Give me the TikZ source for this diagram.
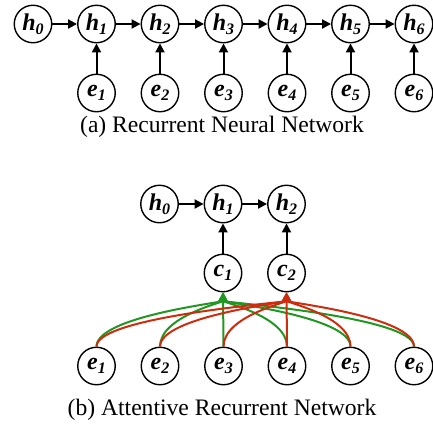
\documentclass[tikz,border=0pt]{standalone}
\usepackage{fontspec}
\setmainfont{Liberation Serif}
\usetikzlibrary{arrows.meta,calc}
\definecolor{attgreen}{RGB}{34,150,34}
\definecolor{attred}{RGB}{205,45,15}
\newcommand{\nl}[2]{{\fontsize{24}{24}\selectfont\bfseries\itshape #1\raisebox{-3.5pt}{\fontsize{16}{16}\selectfont #2}}}
\begin{document}
\begin{tikzpicture}[x=1pt,y=-1pt,
  unit/.style={circle,draw,line width=1.4pt,minimum size=37.5pt,inner sep=0pt},
  blk/.style={line width=2pt,-{Triangle[length=9pt,width=9pt]}},
  gline/.style={line width=2pt,attgreen,-{Triangle[length=9pt,width=9pt]}},
  rline/.style={line width=2pt,attred,-{Triangle[length=9pt,width=9pt]}},
  captext/.style={font=\fontsize{23.6}{26}\selectfont}]
\useasboundingbox (0,0) rectangle (433,432);
% (a)
\node[unit] (ah0) at (33,24) {\nl{h}{0}};
\foreach \i in {1,...,6} {
  \node[unit] (ah\i) at ({33+63.5*\i},24) {\nl{h}{\i}};
  \node[unit] (ae\i) at ({33+63.5*\i},93) {\nl{e}{\i}};
  \draw[blk] (ae\i) -- (ah\i);
}
\foreach \i [count=\j from 1] in {0,...,5} \draw[blk] (ah\i) -- (ah\j);
\node[captext] (capa) at (222,127) {(a) Recurrent Neural Network};
% (b)
\node[unit] (bh0) at (159.5,204) {\nl{h}{0}};
\node[unit] (bh1) at (223,204) {\nl{h}{1}};
\node[unit] (bh2) at (286.5,204) {\nl{h}{2}};
\node[unit] (bc1) at (223,273) {\nl{c}{1}};
\node[unit] (bc2) at (286.5,273) {\nl{c}{2}};
\draw[blk] (bh0) -- (bh1);
\draw[blk] (bh1) -- (bh2);
\draw[blk] (bc1) -- (bh1);
\draw[blk] (bc2) -- (bh2);
\foreach \i in {1,...,6}
  \node[unit] (be\i) at ({33+63.5*\i},366) {\nl{e}{\i}};
\foreach \i in {1,2,4,5,6}
  \draw[gline] (be\i.north) .. controls ($(be\i.north)+(0,-30)$) and ($(bc1.south)+(0,10)$) .. (bc1.south);
\draw[gline] (be3) -- (bc1);
\foreach \i in {1,2,3,5,6}
  \draw[rline] (be\i.north) .. controls ($(be\i.north)+(0,-30)$) and ($(bc2.south)+(0,10)$) .. (bc2.south);
\draw[rline] (be4) -- (bc2);
\node[captext] (capb) at (222,410) {(b) Attentive Recurrent Network};
\end{tikzpicture}
\end{document}
